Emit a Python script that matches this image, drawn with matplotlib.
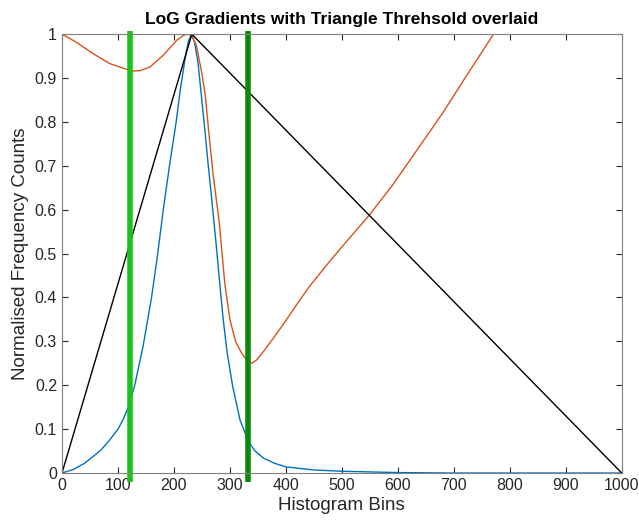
import numpy as np
import matplotlib
matplotlib.use("Agg")
import matplotlib.pyplot as plt

plt.rcParams['font.family'] = ['Liberation Sans', 'DejaVu Sans']

# histogram of LoG gradient magnitudes (normalised)
hist_x = [0, 20, 40, 55, 70, 85, 100, 109, 120, 130, 145, 160, 170, 181, 192, 204, 211, 220, 226, 232,
          237, 243, 249, 255, 261, 267, 274, 282, 288, 295, 305, 318, 333, 345, 360, 380, 400, 450, 500, 600, 700, 800, 1000]
hist_y = [0, 0.008, 0.022, 0.037, 0.053, 0.075, 0.1, 0.121, 0.155, 0.2, 0.29, 0.4, 0.49, 0.6, 0.7, 0.8, 0.87, 0.945, 0.985, 1.0,
          0.98, 0.935, 0.86, 0.785, 0.705, 0.63, 0.54, 0.43, 0.35, 0.275, 0.197, 0.121, 0.072, 0.05, 0.034, 0.022, 0.014, 0.007, 0.004, 0.001, 0.0, 0.0, 0.0]

# normalised distance from histogram to triangle line
dist_x = [0, 25, 55, 85, 115, 128, 140, 157, 181, 205, 218, 226, 232, 240, 250, 256, 262, 270, 281, 291, 300,
          310, 321, 330, 339, 348, 360, 378, 396, 420, 442, 480, 510, 548, 590, 631, 680, 720, 771, 800, 900, 1000]
dist_y = [1.0, 0.982, 0.956, 0.933, 0.92, 0.916, 0.917, 0.925, 0.952, 0.986, 0.998, 1.0, 0.995, 0.975, 0.91, 0.86, 0.78, 0.68, 0.57, 0.43, 0.35,
          0.3, 0.273, 0.257, 0.25, 0.258, 0.277, 0.308, 0.34, 0.385, 0.425, 0.485, 0.53, 0.586, 0.655, 0.73, 0.82, 0.9, 1.0, 1.0, 1.0, 1.0]

# triangle: origin -> histogram peak -> last bin
tri_x = [0, 232, 1000]
tri_y = [0, 1, 0]

# thresholds
thr_low = 121
thr_high = 333

fig = plt.figure(figsize=(6.39, 5.25), dpi=100)
ax = fig.add_axes([0.097, 0.099, 0.876, 0.836])

ax.plot(hist_x, hist_y, color='#0072BD', lw=1.0)
ax.plot(dist_x, dist_y, color='#D95319', lw=1.0)
ax.plot(tri_x, tri_y, color='black', lw=1.0)
ax.plot([thr_low, thr_low], [-0.02, 1.008], color='#18C418', lw=4.0, clip_on=False, solid_capstyle='butt')
ax.plot([thr_high, thr_high], [-0.02, 1.008], color='#0A8A0A', lw=4.0, clip_on=False, solid_capstyle='butt')

ax.set_xlim(0, 1000)
ax.set_ylim(0, 1)
ax.set_xticks(np.arange(0, 1001, 100))
ax.set_yticks(np.arange(0, 1.01, 0.1))
ax.set_yticklabels(['0', '0.1', '0.2', '0.3', '0.4', '0.5', '0.6', '0.7', '0.8', '0.9', '1'])
ax.tick_params(direction='in', top=True, right=True, length=4, width=0.8,
               colors='#262626', labelsize=11.5, labelcolor='#262626')
for s in ax.spines.values():
    s.set_color('#808080')
    s.set_linewidth(0.8)

ax.set_xlabel('Histogram Bins', fontsize=13.5, color='#262626', labelpad=3)
ax.set_ylabel('Normalised Frequency Counts', fontsize=13.5, color='#262626', labelpad=4)
ax.set_title('LoG Gradients with Triangle Threhsold overlaid', fontsize=12.5, fontweight='bold', pad=7)

fig.savefig('out.png', dpi=100)
